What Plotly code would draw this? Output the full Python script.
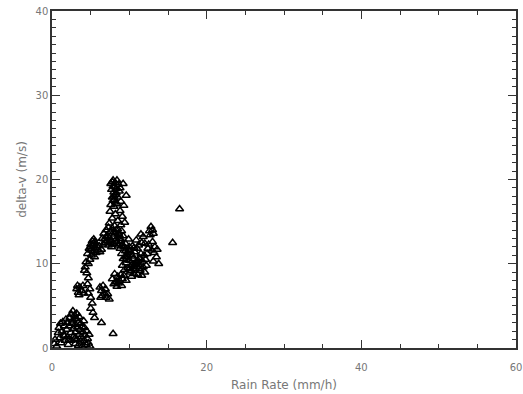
import plotly.graph_objects as go

# Rain rate (mm/h) and delta-v (m/s)
rain_rate = [
    # bottom-left cluster
    0.3, 0.4, 0.6, 0.8, 0.9, 1.0, 1.1, 1.2, 1.3, 1.4, 1.5, 1.6, 1.7, 1.8, 1.9, 2.0, 2.0, 2.1, 2.2, 2.3,
    2.4, 2.5, 2.5, 2.6, 2.7, 2.7, 2.8, 2.8, 2.9, 3.0, 3.0, 3.1, 3.1, 3.2, 3.2, 3.3, 3.4, 3.4, 3.5, 3.5,
    3.6, 3.7, 3.7, 3.8, 3.9, 3.9, 4.0, 4.1, 4.2, 4.2, 4.3, 4.4, 4.5, 4.6, 4.7, 4.8, 4.9, 2.2, 1.6, 2.9,
    # small cluster and descending chain
    3.2, 3.4, 3.6, 3.8, 3.5, 4.0, 4.1, 3.3,
    4.3, 4.5, 4.7, 4.6, 4.9, 4.7, 5.0, 5.2, 5.0, 5.3, 5.5, 4.4, 4.2,
    6.4, 7.9,
    6.2, 6.4, 6.6, 6.8, 6.5, 7.0, 7.2, 6.9, 7.4, 6.3,
    # left upper cluster
    4.6, 4.8, 5.0, 5.2, 5.4, 5.6, 5.1, 5.3, 5.5, 5.8, 4.9, 5.7, 5.0, 5.4, 4.7, 5.9,
    6.1, 6.4, 6.2, 5.2, 5.5, 5.0,
    # top column
    7.6, 7.9, 8.2, 8.4, 8.6, 9.2, 7.7, 8.0, 8.3, 8.7, 7.8, 8.1, 8.5, 8.9, 7.6, 8.0, 8.4, 9.3, 7.9, 8.2,
    8.8, 9.6, 7.8, 8.1, 8.3, 7.9, 8.2, 8.0,
    7.5, 8.2, 8.8, 7.8, 8.5, 9.1, 7.4, 8.1, 8.9, 9.4,
    # main cluster, upper-left part
    6.5, 6.7, 6.9, 7.0, 7.2, 7.3, 7.5, 7.6, 7.8, 7.9, 8.0, 8.2, 8.3, 8.5, 8.6, 8.7, 8.9, 9.0, 9.1, 6.8,
    7.4, 8.1, 8.8, 7.1, 9.2, 7.7, 8.4, 6.6, 7.0, 7.5, 8.0, 8.6, 7.3, 7.8, 8.3, 9.0,
    # main cluster, lower-right part
    8.8, 9.0, 9.2, 9.3, 9.5, 9.6, 9.7, 9.8, 9.9, 10.0, 10.1, 10.2, 10.3, 10.4, 10.5, 10.6, 10.7, 10.8,
    10.9, 11.0, 11.1, 11.2, 11.3, 11.4, 11.5, 11.6, 11.7, 11.8, 11.9, 12.0, 12.1, 12.2, 9.4, 10.0, 10.6,
    11.2, 9.1, 12.3, 10.3, 9.5, 10.9, 11.6, 9.9,
    9.6, 10.1, 10.5, 11.0, 11.3, 9.8, 10.4, 10.8, 11.1, 9.5, 10.2, 10.7, 11.4, 10.0,
    # bottom bump of main cluster
    7.8, 8.1, 8.3, 8.5, 8.7, 8.9, 9.1, 9.3, 9.6, 8.0, 8.4, 9.0, 8.2, 8.6,
    # right group
    12.6, 12.8, 13.0, 12.7, 13.1,
    13.0, 13.3, 13.2, 13.5, 13.6, 13.1, 13.8, 12.9, 12.5, 12.4,
    11.8, 12.0, 11.5,
    16.5, 15.6,
]

delta_v = [
    # bottom-left cluster
    0.5, 1.0, 0.2, 1.8, 2.4, 1.2, 2.9, 0.6, 2.0, 3.1, 1.5, 2.6, 0.9, 3.4, 2.2, 1.3, 3.0, 0.4, 2.6, 3.6,
    1.8, 4.0, 0.9, 2.9, 4.4, 3.3, 1.4, 2.3, 3.9, 0.5, 2.8, 1.9, 3.5, 1.0, 4.1, 2.5, 3.0, 0.3, 1.6, 3.7,
    2.2, 0.8, 2.9, 1.3, 2.5, 0.2, 1.9, 3.2, 0.9, 2.4, 1.5, 0.4, 2.0, 1.1, 0.6, 1.6, 0.2, 1.0, 1.4, 1.1,
    # small cluster and descending chain
    7.0, 6.6, 7.2, 6.8, 6.3, 7.4, 6.5, 7.4,
    9.6, 8.9, 8.3, 7.6, 7.0, 6.5, 6.0, 5.3, 4.7, 4.2, 3.6, 10.2, 9.2,
    3.0, 1.7,
    7.2, 6.8, 7.4, 6.5, 6.2, 6.0, 6.4, 7.0, 5.8, 6.0,
    # left upper cluster
    11.2, 11.8, 12.3, 12.7, 12.4, 11.9, 11.0, 11.5, 10.8, 12.1, 10.5, 11.3, 12.0, 12.9, 10.0, 11.6,
    12.1, 11.7, 11.4, 12.2, 12.6, 11.6,
    # top column
    19.5, 19.9, 19.6, 19.9, 19.4, 19.5, 18.8, 18.5, 18.9, 18.6, 17.9, 17.6, 17.9, 17.4, 17.0, 16.8,
    17.1, 16.9, 19.2, 18.2, 19.0, 18.1, 19.7, 19.1, 18.4, 17.5, 17.3, 18.0,
    16.2, 15.9, 16.3, 15.4, 15.1, 15.6, 14.8, 14.5, 14.6, 14.9,
    # main cluster, upper-left part
    13.0, 13.6, 12.5, 14.0, 13.3, 12.2, 13.8, 12.8, 14.2, 13.2, 12.4, 13.7, 12.9, 14.1, 12.2, 13.4,
    12.7, 13.9, 12.3, 12.9, 13.1, 13.5, 13.0, 12.7, 13.3, 12.0, 12.6, 12.3, 13.2, 12.5, 13.8, 13.6,
    14.3, 12.3, 14.0, 12.1,
    # main cluster, lower-right part
    11.8, 11.2, 10.6, 12.0, 11.5, 10.1, 10.9, 9.5, 11.7, 10.4, 9.0, 11.1, 9.8, 12.1, 10.6, 8.8, 11.4,
    9.4, 10.1, 11.8, 8.7, 9.9, 10.7, 9.2, 11.2, 8.6, 10.3, 9.6, 11.0, 9.0, 10.5, 9.8, 9.3, 12.0, 11.9,
    12.2, 9.8, 11.2, 8.5, 12.4, 12.8, 12.5, 12.9,
    10.5, 11.5, 9.6, 10.2, 9.4, 11.3, 10.9, 9.9, 10.4, 10.8, 9.2, 10.0, 10.6, 9.4,
    # bottom bump of main cluster
    8.2, 8.8, 7.9, 8.5, 8.0, 8.7, 8.2, 8.6, 8.0, 7.6, 7.3, 7.4, 7.8, 7.7,
    # right group
    13.9, 14.4, 14.0, 13.4, 13.6,
    12.6, 12.0, 11.3, 10.8, 11.7, 10.3, 10.0, 11.6, 12.3, 11.8,
    13.2, 12.4, 13.5,
    16.5, 12.5,
]

x_ticks = [0, 20, 40, 60]
y_ticks = [0, 10, 20, 30, 40]

fig = go.Figure(
    go.Scatter(
        x=rain_rate,
        y=delta_v,
        mode="markers",
        marker=dict(
            symbol="triangle-up-open",
            size=7,
            color="black",
            line=dict(width=1.5, color="black"),
        ),
        showlegend=False,
    )
)

tick_font = dict(family="DejaVu Sans", size=10, color="#777")
title_font = dict(family="DejaVu Sans", size=12, color="#777")

axis_common = dict(
    showgrid=False,
    zeroline=False,
    showline=True,
    linecolor="#333",
    linewidth=1.5,
    mirror="allticks",
    ticks="inside",
    ticklen=8,
    tickcolor="#333",
    tickwidth=1,
    tickfont=tick_font,
    automargin=False,
)

fig.update_xaxes(
    range=[0, 60],
    tickvals=x_ticks,
    ticktext=[str(v) for v in x_ticks],
    ticklabelstandoff=9,
    minor=dict(dtick=5, ticks="inside", ticklen=4, tickcolor="#333", showgrid=False),
    title=dict(text="Rain Rate (mm/h)", font=title_font, standoff=9),
    **axis_common,
)
fig.update_yaxes(
    range=[0, 40],
    tickvals=y_ticks,
    ticktext=[str(v) for v in y_ticks],
    minor=dict(dtick=1, ticks="inside", ticklen=4, tickcolor="#333", showgrid=False),
    title=dict(text="delta-v (m/s)", font=title_font, standoff=6),
    **axis_common,
)

fig.update_layout(
    width=523,
    height=394,
    margin=dict(l=52, r=7, t=11, b=46),
    plot_bgcolor="white",
    paper_bgcolor="white",
)

fig.write_html(
    "out.html",
    config={"displayModeBar": False},
    post_script="document.body.style.margin='0px';document.body.style.overflow='hidden';",
)
